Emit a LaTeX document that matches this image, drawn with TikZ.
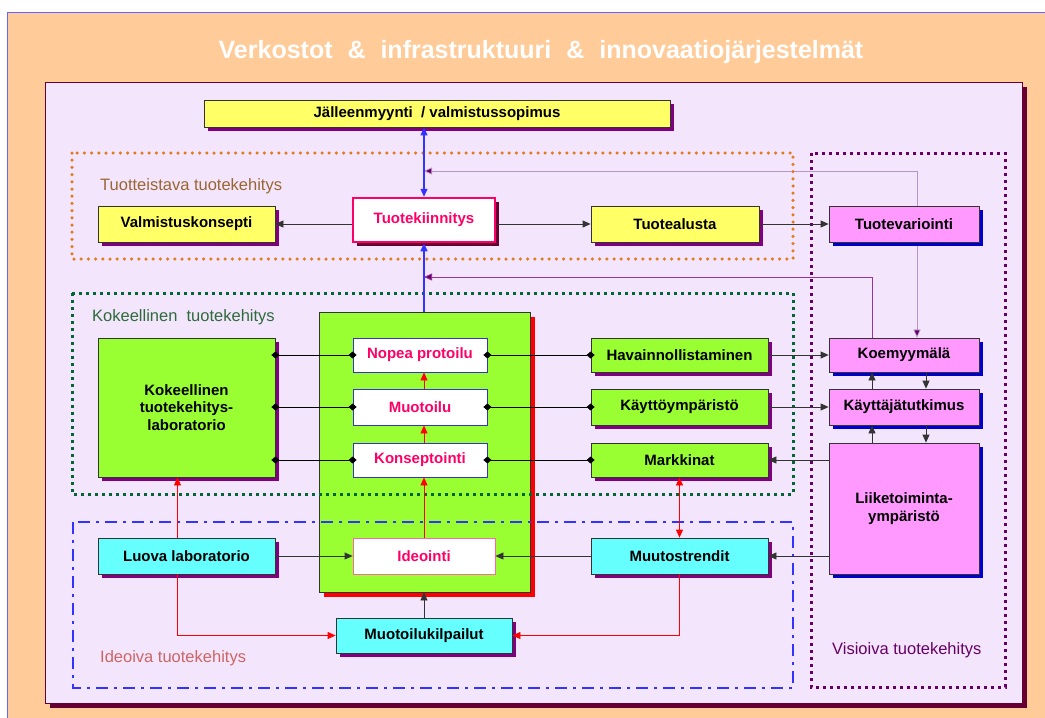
\documentclass[tikz,border=0pt]{standalone}
\usepackage{fontspec}
\usepackage{graphicx}
\setmainfont{Liberation Sans}
\usetikzlibrary{arrows.meta,shadows,calc}
\pgfdeclarelayer{back}
\pgfdeclarelayer{mid}
\pgfsetlayers{back,mid,main}
\definecolor{peach}{HTML}{FFCC99}
\definecolor{panel}{HTML}{F3E5FB}
\definecolor{maroon}{HTML}{660033}
\definecolor{cyel}{HTML}{FFFF66}
\definecolor{cgreen}{HTML}{99FF33}
\definecolor{ccyan}{HTML}{66FFFF}
\definecolor{cpink}{HTML}{FF99FF}
\definecolor{crim}{HTML}{FF0066}
\definecolor{shpur}{HTML}{800080}
\definecolor{shblue}{HTML}{0000CC}
\definecolor{corange}{HTML}{E07B20}
\definecolor{cdgreen}{HTML}{006633}
\definecolor{cdpur}{HTML}{660066}
\definecolor{cblue}{HTML}{3333FF}
\definecolor{lbrown}{HTML}{996633}
\definecolor{lgreen}{HTML}{2E6B3A}
\definecolor{lred}{HTML}{CC6666}
\definecolor{lpur}{HTML}{B894C8}
\definecolor{mpur}{HTML}{993399}
\definecolor{cred}{HTML}{FF3333}
\definecolor{dark}{HTML}{333333}
\tikzset{
  box/.style={draw=dark, line width=0.8pt, font=\fontsize{15}{17.5}\selectfont\bfseries, align=center, inner sep=0pt},
  psh/.style={drop shadow={shadow xshift=4pt,shadow yshift=-4pt,fill=shpur,opacity=1}},
  bsh/.style={drop shadow={shadow xshift=4pt,shadow yshift=-4pt,fill=shblue,opacity=1}},
  msh/.style={drop shadow={shadow xshift=4pt,shadow yshift=-4pt,fill=maroon,opacity=1}},
  rsh/.style={drop shadow={shadow xshift=5pt,shadow yshift=-5pt,fill=red,opacity=1}},
  wbox/.style={box, fill=white, draw=blue!60!gray, text=crim},
  ybox/.style={box, fill=cyel, psh},
  gbox/.style={box, fill=cgreen, psh},
  cbox/.style={box, fill=ccyan, psh},
  pbox/.style={box, fill=cpink, bsh},
  rlabel/.style={font=\fontsize{16.5}{19}\selectfont, anchor=west, inner sep=0pt},
  karr/.style={draw=dark, line width=0.8pt, -{Triangle[length=8pt,width=7pt]}},
  rarr/.style={draw=cred, line width=0.8pt, -{Triangle[length=8pt,width=7pt]}, color=red},
  dia/.style={draw=black, line width=0.8pt, {Diamond[length=8pt,width=7pt]}-{Diamond[length=8pt,width=7pt]}, shorten <=-4pt, shorten >=-4pt},
  barr/.style={draw=cblue, line width=1.2pt},
}
\begin{document}
\begin{tikzpicture}[x=1pt,y=-1pt]
\useasboundingbox (0,0) rectangle (1045,718);
\begin{pgfonlayer}{back}
  \fill[white] (0,0) rectangle (1045,718);
  \draw[fill=peach, draw=blue!60, line width=0.8pt] (7,12) rectangle (1060,730);
  \fill[maroon] (50,87) rectangle (1027,708);
  \draw[fill=panel, draw=maroon, line width=0.8pt] (45,82) rectangle (1022,703);
\end{pgfonlayer}

\node[text=white, font=\fontsize{25}{30}\selectfont\bfseries] (title) at (541,52) {Verkostot\hspace{8pt} \&\hspace{8pt} infrastruktuuri\hspace{8pt} \&\hspace{8pt} innovaatiojärjestelmät};

% top
\node[ybox, minimum width=466pt, minimum height=27pt] (jal) at (437,113.5) {Jälleenmyynti \ / valmistussopimus};
\node[ybox, minimum width=177pt, minimum height=36pt] (valm) at (186.5,224) {Valmistuskonsepti};
\node[box, fill=white, draw=crim, line width=2.5pt, text=crim, msh, minimum width=142pt, minimum height=44pt] (tki) at (424,220) {Tuotekiinnitys};
\node[ybox, minimum width=168pt, minimum height=36pt] (alusta) at (675,224) {Tuotealusta};
\node[pbox, minimum width=150pt, minimum height=36pt] (vari) at (904,224) {Tuotevariointi};

% big green
\node[box, fill=cgreen, rsh, minimum width=211pt, minimum height=280pt] (big) at (424.5,452) {};
\node[wbox, minimum width=134pt, minimum height=34pt] (nopea) at (420,355) {Nopea protoilu};
\node[wbox, minimum width=134pt, minimum height=36pt] (muot) at (420,407) {Muotoilu};
\node[wbox, minimum width=134pt, minimum height=34pt] (konsept) at (420,460) {Konseptointi};
\node[wbox, draw=crim!60, minimum width=142pt, minimum height=36pt] (ideo) at (424,556) {Ideointi};

\node[gbox, minimum width=177pt, minimum height=139pt] (lab) at (186.5,407.5) {Kokeellinen\\tuotekehitys-\\laboratorio};
\node[gbox, minimum width=177pt, minimum height=34pt] (hav) at (679.5,355) {Havainnollistaminen};
\node[gbox, minimum width=177pt, minimum height=36pt] (kay) at (679.5,407) {Käyttöympäristö};
\node[gbox, minimum width=177pt, minimum height=34pt] (mark) at (679.5,460) {Markkinat};

\node[pbox, minimum width=150pt, minimum height=34pt] (koe) at (904,355) {Koemyymälä};
\node[pbox, minimum width=150pt, minimum height=36pt] (kt) at (904,407) {Käyttäjätutkimus};
\node[pbox, minimum width=150pt, minimum height=131pt] (liike) at (904,508.5) {Liiketoiminta-\\ympäristö};

\node[cbox, minimum width=177pt, minimum height=36pt] (luova) at (186.5,556) {Luova laboratorio};
\node[cbox, minimum width=176pt, minimum height=35pt] (kilp) at (424,635.5) {Muotoilukilpailut};
\node[cbox, minimum width=177pt, minimum height=36pt] (trend) at (679.5,556) {Muutostrendit};

% regions
\draw[corange, line width=3.5pt, line cap=round, dash pattern=on 0pt off 7.2pt] (72,153) rectangle (793,259);
\draw[cdgreen, line width=3pt, dash pattern=on 3pt off 4pt] (72,293) rectangle (793,494);
\draw[cblue, line width=2.5pt, dash pattern=on 12pt off 6pt on 3pt off 6pt] (73,522) rectangle (793,688);
\draw[cdpur, line width=3pt, dash pattern=on 3pt off 4pt] (811,153) rectangle (1005,687);

\node[rlabel, text=lbrown] (l1) at (100,186) {Tuotteistava tuotekehitys};
\node[rlabel, text=lgreen] (l2) at (92,317) {Kokeellinen \ tuotekehitys};
\node[rlabel, text=lred] (l3) at (100,658) {Ideoiva tuotekehitys};
\node[rlabel, text=cdpur] (l4) at (832,650) {Visioiva tuotekehitys};

% connectors
\coordinate (lp) at (424,171);
\coordinate (pp) at (424,277);
\begin{pgfonlayer}{mid}
  \draw[lpur, line width=0.7pt, {Triangle[length=8pt,width=7pt,fill=cdpur]}-{Triangle[length=8pt,width=7pt,fill=cdpur]}] (lp) -| ($(koe.north)+(13,0)$);
\end{pgfonlayer}
\draw[mpur, line width=0.8pt, -{Triangle[length=8pt,width=7pt,fill=cdpur]}] ($(koe.north)+(-32,0)$) |- (pp);

\draw[barr, {Triangle[length=8pt,width=7pt]}-{Triangle[length=8pt,width=7pt]}] (tki.north) -- (tki.north |- jal.south);
\draw[barr, -{Triangle[length=8pt,width=7pt]}] (tki.south |- big.north) -- (tki.south);
\draw[karr] (tki.west |- valm.east) -- (valm.east);
\draw[karr] (tki.east |- alusta.west) -- (alusta.west);
\draw[karr] (alusta.east) -- (vari.west);

\draw[dia] (lab.east |- nopea.west) -- (nopea.west);
\draw[dia] (lab.east |- muot.west) -- (muot.west);
\draw[dia] (lab.east |- konsept.west) -- (konsept.west);
\draw[dia] (nopea.east) -- (hav.west);
\draw[dia] (muot.east) -- (kay.west);
\draw[dia] (konsept.east) -- (mark.west);

\draw[karr] (hav.east) -- (koe.west);
\draw[karr] (kay.east) -- (kt.west);
\draw[karr] ($(kt.north)+(-32,0)$) -- ($(koe.south)+(-32,0)$);
\draw[karr] ($(koe.south)+(22,0)$) -- ($(kt.north)+(22,0)$);
\draw[karr] ($(liike.north)+(-32,0)$) -- ($(kt.south)+(-32,0)$);
\draw[karr] ($(kt.south)+(22,0)$) -- ($(liike.north)+(22,0)$);
\draw[karr] (liike.west |- mark.east) -- (mark.east);
\draw[karr] (liike.west |- trend.east) -- (trend.east);
\draw[karr] (trend.west) -- (ideo.east);
\draw[karr] (luova.east) -- (ideo.west);
\draw[karr] (kilp.north) -- (kilp.north |- big.south);

\draw[rarr] (ideo.north) -- (ideo.north |- konsept.south);
\draw[rarr] (ideo.north |- konsept.north) -- (ideo.north |- muot.south);
\draw[rarr] (ideo.north |- muot.north) -- (ideo.north |- nopea.south);
\draw[rarr] ($(luova.north)+(-9,0)$) -- ($(lab.south)+(-9,0)$);
\draw[rarr] ($(luova.south)+(-9,0)$) |- (kilp.west);
\draw[rarr] (trend.south) |- (kilp.east);
\draw[rarr, {Triangle[length=8pt,width=7pt]}-{Triangle[length=8pt,width=7pt]}] (mark.south) -- (trend.north);
\end{tikzpicture}
\end{document}
